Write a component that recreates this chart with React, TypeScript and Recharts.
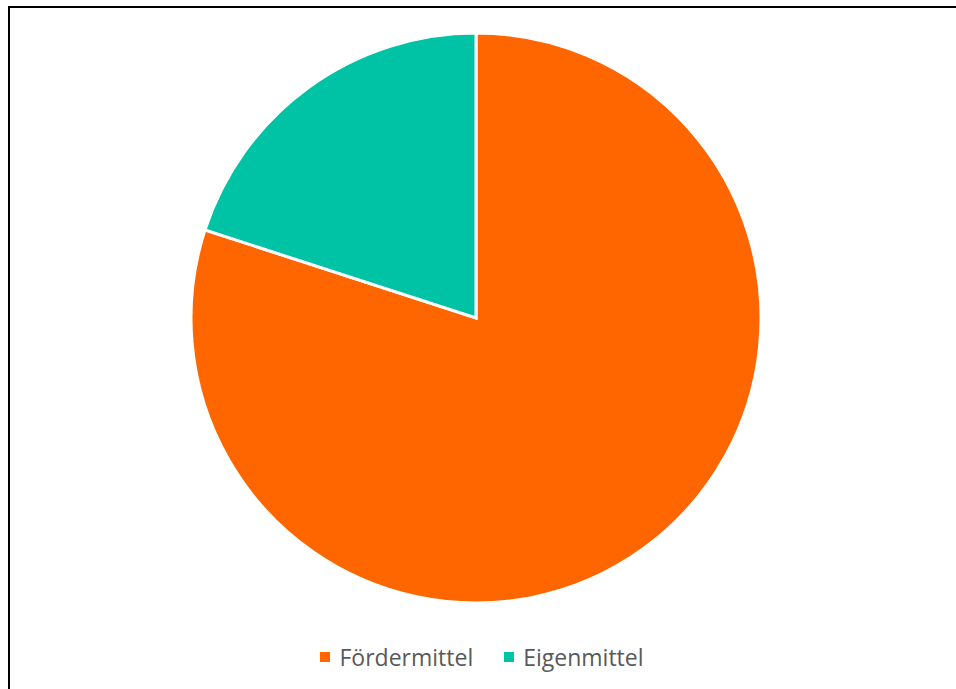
import React from 'react';
import { PieChart, Pie, Cell, Legend } from 'recharts';

const categories = ['Fördermittel', 'Eigenmittel'];
const values = [80, 20];
const colors = ['#FF6600', '#00C3A5'];

const data = categories.map((name, i) => ({ name, value: values[i] }));

function LegendBox() {
  return (
    <div style={{ display: 'flex', justifyContent: 'center', alignItems: 'center', paddingLeft: 8, fontFamily: '"Open Sans", sans-serif', fontSize: 23, color: '#595959' }}>
      {categories.map((name, i) => (
        <div key={name} style={{ display: 'flex', alignItems: 'center', marginRight: i === 0 ? 31 : 0 }}>
          <span style={{ display: 'inline-block', width: 10, height: 10, background: colors[i], marginRight: 9 }} />
          <span>{name}</span>
        </div>
      ))}
    </div>
  );
}

export default function App() {
  return (
    <div style={{ position: 'absolute', left: 0, top: 0, width: 956, height: 689, background: '#fff' }}>
      <div style={{ position: 'absolute', left: 8, top: 6, right: 0, bottom: 0, borderTop: '2px solid #000', borderLeft: '2px solid #000' }} />
      <PieChart width={956} height={689} margin={{ top: 0, right: 0, bottom: 0, left: 0 }}>
        <Pie
          data={data}
          dataKey="value"
          nameKey="name"
          cx={476}
          cy={318}
          outerRadius={285}
          startAngle={90}
          endAngle={-270}
          stroke="#fff"
          strokeWidth={3}
          isAnimationActive={false}
        >
          {data.map((d, i) => (
            <Cell key={d.name} fill={colors[i]} />
          ))}
        </Pie>
        <Legend content={<LegendBox />} wrapperStyle={{ top: 641, left: 0, width: 956 }} />
      </PieChart>
    </div>
  );
}
